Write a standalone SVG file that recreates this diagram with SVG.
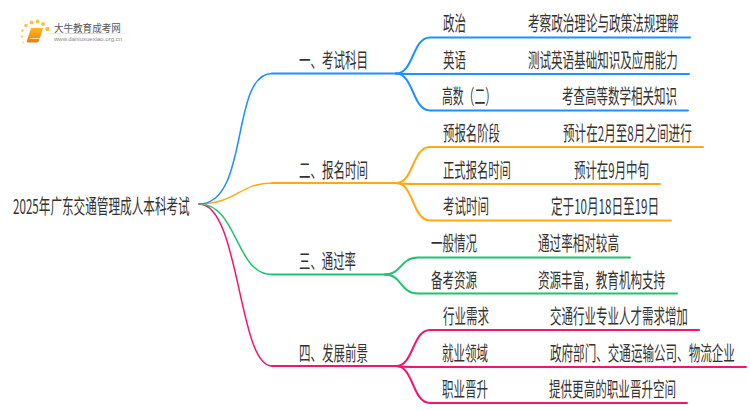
<svg xmlns="http://www.w3.org/2000/svg" width="750" height="410" viewBox="0 0 750 410">
<style>
text{font-family:"Noto Sans CJK SC","Liberation Sans",sans-serif;font-size:20px;fill:#333}
.c{fill:none;stroke-linecap:round}
.b{stroke:#1e90ff}.o{stroke:#ffa812}.g{stroke:#1fc26f}.p{stroke:#f5136f}
</style>
<defs>
<linearGradient id="fade" x1="0" x2="1" y1="0" y2="0"><stop offset="0" stop-color="#ccc" stop-opacity="0.2"/><stop offset="0.4" stop-color="#ccc"/><stop offset="1" stop-color="#ccc" stop-opacity="0"/></linearGradient>
<linearGradient id="book" x1="0" x2="0" y1="0" y2="1"><stop offset="0" stop-color="#ffb81e"/><stop offset="1" stop-color="#f07a10"/></linearGradient>
</defs>
<g id="logo">
<g fill="#fbc04a">
<circle cx="23" cy="42.500" r="1.200" fill="#fde3a8"/><circle cx="22" cy="36.500" r="1.500" fill="#fdd98e"/><circle cx="22.500" cy="30.500" r="1.500" fill="#fdd27a"/><circle cx="26" cy="25.500" r="1.800"/><circle cx="31.500" cy="22.500" r="2"/><circle cx="37.500" cy="21.500" r="2"/><circle cx="43" cy="24" r="2"/><circle cx="47.500" cy="29" r="2.200"/>
</g>
<path d="M31 28H43L39 41Q38 42.500 36 42.500H27Q26.500 41 27.500 39Z" fill="url(#book)"/>
<path d="M30 38.500H40" stroke="#ffe2a8" stroke-width="1"/>
<rect x="46" y="33" width="87" height="1" fill="url(#fade)"/>
<text transform="translate(54 32) scale(0.91 1)" style="font-size:10.500px;fill:#555">大牛教育成考网</text>
<text x="54" y="41" style="font-family:'Liberation Sans',sans-serif;font-size:6px;fill:#888">www.daniuxuexiao.org.cn</text>
</g>
<g id="connectors">
<g class="c" stroke-width="1.500">
<path class="p" d="M199 204C240 204 238 366 272 366" />
<path class="g" d="M199 204C238 204 235 274.500 272 274.500"/>
<path class="o" d="M199 204C235 204 240 183 272 183"/>
<path class="b" d="M199 204C250 204 230 73.500 272 73.500"/>
</g>
<g class="c" stroke-width="2">
<path class="b" d="M272 73.500H396"/><path class="b" d="M396 73.500C414 73.500 412 37.500 430 37.500H690"/><path class="b" d="M396 73.500Q400 74 430 74H689"/><path class="b" d="M396 73.500C414 73.500 412 110.500 430 110.500H688"/>
<path class="o" d="M272 183H396"/><path class="o" d="M396 183C414 183 412 147 430 147H703"/><path class="o" d="M396 183Q400 184 430 184H660"/><path class="o" d="M396 183C414 183 412 220.500 430 220.500H671"/>
<path class="g" d="M272 274.500H385"/><path class="g" d="M385 274.500C402 274.500 400 257.500 418 257.500H630"/><path class="g" d="M385 274.500C402 274.500 400 293.500 418 293.500H677"/>
<path class="p" d="M272 366H396"/><path class="p" d="M396 366C414 366 412 330 430 330H699"/><path class="p" d="M396 366Q400 367 430 367H746"/><path class="p" d="M396 366C414 366 412 403 430 403H687"/>
</g>
</g>
<g id="root"><text transform="translate(13 213.500) scale(0.581 1)">2025年广东交通管理成人本科考试</text></g>
<g id="n1"><text transform="translate(299 67.500) scale(0.575 1)">一、考试科目</text></g>
<g id="n1a"><text transform="translate(443 30.500) scale(0.575 1)">政治</text></g>
<g id="n1a1"><text transform="translate(528 30.500) scale(0.58 1)">考察政治理论与政策法规理解</text></g>
<g id="n1b"><text transform="translate(443 67.500) scale(0.575 1)">英语</text></g>
<g id="n1b1"><text transform="translate(528 67.500) scale(0.577 1)">测试英语基础知识及应用能力</text></g>
<g id="n1c"><text transform="translate(442 103.500) scale(0.54 1)">高数（二）</text></g>
<g id="n1c1"><text transform="translate(562 103.500) scale(0.575 1)">考查高等数学相关知识</text></g>
<g id="n2"><text transform="translate(299 177.500) scale(0.575 1)">二、报名时间</text></g>
<g id="n2a"><text transform="translate(443 140.500) scale(0.57 1)">预报名阶段</text></g>
<g id="n2a1"><text transform="translate(563 140.500) scale(0.58 1)">预计在2月至8月之间进行</text></g>
<g id="n2b"><text transform="translate(443 177.500) scale(0.566 1)">正式报名时间</text></g>
<g id="n2b1"><text transform="translate(574 177.500) scale(0.572 1)">预计在9月中旬</text></g>
<g id="n2c"><text transform="translate(443 213.500) scale(0.575 1)">考试时间</text></g>
<g id="n2c1"><text transform="translate(551 213.500) scale(0.58 1)">定于10月18日至19日</text></g>
<g id="n3"><text transform="translate(299 268.500) scale(0.57 1)">三、通过率</text></g>
<g id="n3a"><text transform="translate(431 250.500) scale(0.575 1)">一般情况</text></g>
<g id="n3a1"><text transform="translate(538 250.500) scale(0.579 1)">通过率相对较高</text></g>
<g id="n3b"><text transform="translate(431 287.500) scale(0.575 1)">备考资源</text></g>
<g id="n3b1"><text transform="translate(538 287.500) scale(0.578 1)">资源丰富，教育机构支持</text></g>
<g id="n4"><text transform="translate(299 360.500) scale(0.575 1)">四、发展前景</text></g>
<g id="n4a"><text transform="translate(443 323.500) scale(0.575 1)">行业需求</text></g>
<g id="n4a1"><text transform="translate(550 323.500) scale(0.575 1)">交通行业专业人才需求增加</text></g>
<g id="n4b"><text transform="translate(442 360.500) scale(0.575 1)">就业领域</text></g>
<g id="n4b1"><text transform="translate(550 360.500) scale(0.578 1)">政府部门、交通运输公司、物流企业</text></g>
<g id="n4c"><text transform="translate(442 396.500) scale(0.575 1)">职业晋升</text></g>
<g id="n4c1"><text transform="translate(549 396.500) scale(0.578 1)">提供更高的职业晋升空间</text></g>
</svg>
